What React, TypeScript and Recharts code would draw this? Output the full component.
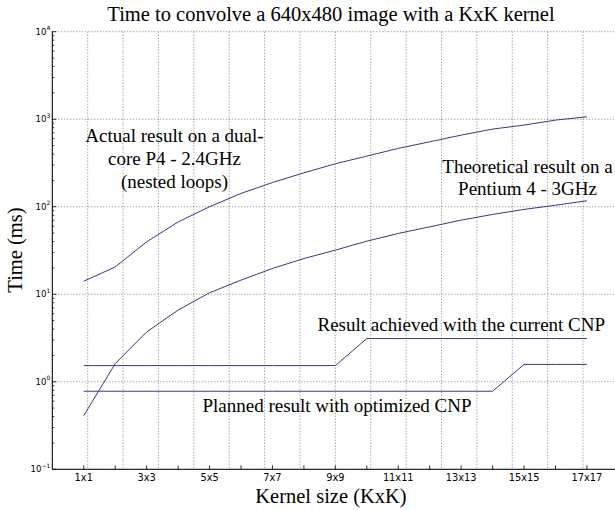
import React from "react";
import { CartesianGrid, Line, LineChart, XAxis, YAxis } from "recharts";

// kernel sizes on the x axis
const kernels = [
  "1x1", "2x2", "3x3", "4x4", "5x5", "6x6", "7x7", "8x8", "9x9",
  "10x10", "11x11", "12x12", "13x13", "14x14", "15x15", "16x16", "17x17",
];
const xTickLabels = ["1x1", "3x3", "5x5", "7x7", "9x9", "11x11", "13x13", "15x15", "17x17"];

// times in ms
const actualP4 = [14.1, 20.5, 39.7, 67, 100, 142, 189, 244, 310, 379, 464, 552, 658, 771, 857, 977, 1066];
const theoreticalP4 = [0.41, 1.61, 3.7, 6.6, 10.4, 14.5, 19.7, 25.6, 31.9, 40.4, 49.5, 58.9, 70.3, 81.7, 93.2, 104, 117];
const currentCNP = [1.53, 1.53, 1.53, 1.53, 1.53, 1.53, 1.53, 1.53, 1.53, 3.12, 3.12, 3.12, 3.12, 3.12, 3.12, 3.12, 3.12];
const plannedCNP = [0.78, 0.78, 0.78, 0.78, 0.78, 0.78, 0.78, 0.78, 0.78, 0.78, 0.78, 0.78, 0.78, 0.78, 1.58, 1.58, 1.58];

const yDecades = [0.1, 1, 10, 100, 1000, 10000];
const yExponents = ["\u22121", "0", "1", "2", "3", "4"];

const data = kernels.map((name, i) => ({
  k: i + 1,
  name,
  actual: actualP4[i],
  theoretical: theoreticalP4[i],
  current: currentCNP[i],
  planned: plannedCNP[i],
}));

// major + minor ticks for the log axis
const yTicks: number[] = [];
yDecades.forEach((d, i) => {
  if (i === yDecades.length - 1) {
    yTicks.push(d);
    return;
  }
  for (let m = 1; m < 10; m++) yTicks.push(Number((m * d).toPrecision(3)));
});

const lineColor = "#3c3584";
const serif = "Liberation Serif";
const sans = "DejaVu Sans";

const LeftTick = (props: any) => {
  const { x, y, payload } = props;
  const idx = yDecades.indexOf(payload.value);
  const major = idx >= 0;
  return (
    <g>
      <line x1={x} x2={x + (major ? 4 : 2)} y1={y} y2={y} stroke="#000" strokeWidth={0.8} />
      {major && (
        <text x={x - 2} y={y + 3} textAnchor="end" style={{ fontFamily: sans, fontSize: 8.6 }} fill="#000">
          <tspan>10</tspan>
          <tspan dy={-4.5} style={{ fontSize: 6 }}>
            {yExponents[idx]}
          </tspan>
        </text>
      )}
    </g>
  );
};

const BottomTick = (props: any) => {
  const { x, y, payload } = props;
  const label = kernels[payload.value - 1];
  return (
    <g>
      <line x1={x} x2={x} y1={y} y2={y - 4} stroke="#000" strokeWidth={0.8} />
      {xTickLabels.includes(label) && (
        <text x={x} y={y + 11.7} textAnchor="middle" style={{ fontFamily: sans, fontSize: 9.8 }} fill="#000">
          {label}
        </text>
      )}
    </g>
  );
};

const TopTick = (props: any) => {
  const { x, y } = props;
  return <line x1={x} x2={x} y1={y} y2={y + 4} stroke="#000" strokeWidth={0.8} />;
};

export default function App() {
  const xTicks = kernels.map((_, i) => i + 1);
  return (
    <div style={{ position: "absolute", left: 0, top: 0, width: 615, height: 510, overflow: "hidden", background: "#fff" }}>
      <LineChart width={630} height={510} data={data} margin={{ top: 31.7, right: 11.6, left: 0, bottom: 0 }}>
        <CartesianGrid stroke="#000" strokeWidth={0.5} strokeDasharray="1 2" horizontalValues={yDecades} />
        <XAxis
          xAxisId="bottom"
          dataKey="k"
          type="number"
          domain={[0, 18]}
          ticks={xTicks}
          interval={0}
          height={40.7}
          tickSize={0}
          tickMargin={0}
          tickLine={false}
          tick={<BottomTick />}
          axisLine={{ stroke: "#000", strokeWidth: 1 }}
        />
        <XAxis
          xAxisId="top"
          orientation="top"
          dataKey="k"
          type="number"
          domain={[0, 18]}
          ticks={xTicks}
          interval={0}
          height={0}
          tickSize={0}
          tickMargin={0}
          tickLine={false}
          tick={<TopTick />}
          axisLine={{ stroke: "#000", strokeWidth: 1 }}
        />
        <YAxis
          type="number"
          scale="log"
          domain={[0.1, 10000]}
          allowDataOverflow
          ticks={yTicks}
          interval={0}
          width={52.3}
          tickSize={0}
          tickMargin={0}
          tickLine={false}
          tick={<LeftTick />}
          axisLine={{ stroke: "#000", strokeWidth: 1 }}
        />
        <Line xAxisId="bottom" type="linear" dataKey="actual" stroke={lineColor} strokeWidth={1} dot={false} isAnimationActive={false} />
        <Line xAxisId="bottom" type="linear" dataKey="theoretical" stroke={lineColor} strokeWidth={1} dot={false} isAnimationActive={false} />
        <Line xAxisId="bottom" type="linear" dataKey="current" stroke={lineColor} strokeWidth={1} dot={false} isAnimationActive={false} />
        <Line xAxisId="bottom" type="linear" dataKey="planned" stroke={lineColor} strokeWidth={1} dot={false} isAnimationActive={false} />
      </LineChart>
      <svg width={615} height={510} style={{ position: "absolute", left: 0, top: 0, pointerEvents: "none", fontFamily: serif }}>
        <g fill="#000">
          <text x={331} y={21} textAnchor="middle" style={{ fontFamily: serif, fontSize: 20.5 }}>
            Time to convolve a 640x480 image with a KxK kernel
          </text>
          <text x={331} y={503} textAnchor="middle" style={{ fontFamily: serif, fontSize: 20.5 }}>
            Kernel size (KxK)
          </text>
          <text transform="translate(22,250) rotate(-90)" textAnchor="middle" style={{ fontFamily: serif, fontSize: 20.5 }}>
            Time (ms)
          </text>
          <g textAnchor="middle" style={{ fontFamily: serif, fontSize: 19 }}>
            <text x={174.5} y={141.7}>Actual result on a dual-</text>
            <text x={174.5} y={165}>core P4 - 2.4GHz</text>
            <text x={174.5} y={188.3}>(nested loops)</text>
            <text x={527.5} y={172.5}>Theoretical result on a</text>
            <text x={527.5} y={195.3}>Pentium 4 - 3GHz</text>
            <text x={461.3} y={330.6}>Result achieved with the current CNP</text>
            <text x={337} y={412}>Planned result with optimized CNP</text>
          </g>
        </g>
      </svg>
    </div>
  );
}
